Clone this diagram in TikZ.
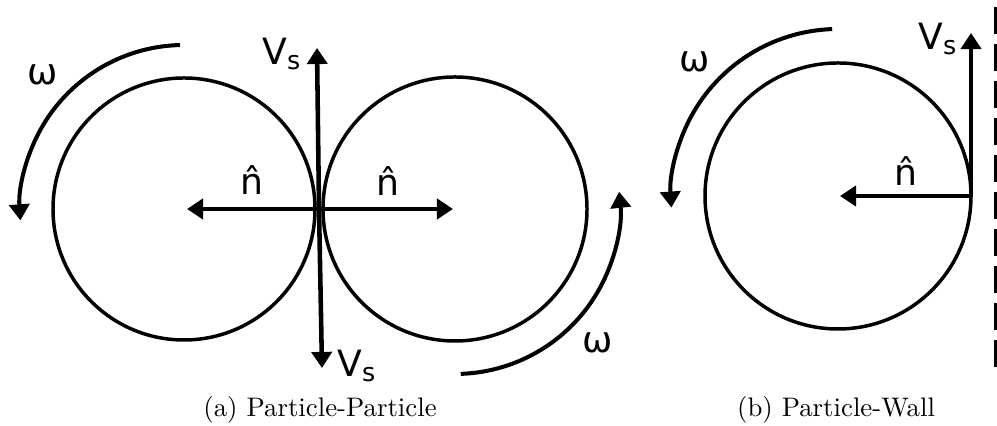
\documentclass[tikz,border=0pt]{standalone}
\usepackage{fontspec}
\newfontfamily\labelfont{DejaVu Sans}
\usetikzlibrary{arrows.meta}
\begin{document}
\begin{tikzpicture}[x=0.373pt,y=0.373pt,
		particle/.style={line width=1.3pt},
		vec/.style={line width=1.7pt,-{Triangle[width=7.5pt,length=6pt]}},
		spin/.style={line width=1.5pt,-{Triangle[width=7.5pt,length=6pt]}},
		lbl/.style={inner sep=0pt,font=\labelfont\fontsize{13.5}{16}\selectfont},
		wall/.style={line width=2.2pt,dash pattern=on 10.1pt off 3.7pt}]
	\useasboundingbox (0,0) rectangle (997,426);
	% (a) two particles in contact
	\coordinate (L) at (184,217);
	\coordinate (R) at (455,217);
	\coordinate (C) at (319,217);
	\coordinate (vsUp) at (317,378);
	\coordinate (vsDown) at (322,58);
	\coordinate (nL) at (187,217);
	\coordinate (nR) at (453,217);
	\draw[particle] (L) circle (131);
	\draw[particle] (R) circle (132);
	\draw[vec] (C)--(vsUp);
	\draw[vec] (C)--(vsDown);
	\draw[vec] (C)--(nL);
	\draw[vec] (C)--(nR);
	\draw[spin] ([shift={(91.4:164)}]L) arc[start angle=91.4, end angle=184, radius=164];
	\draw[spin] ([shift={(-88:165)}]R) arc[start angle=-88, end angle=6, radius=165];
	\node[lbl] (vsTopLabel) at (282,372) {V\textsubscript{s}};
	\node[lbl] (vsBotLabel) at (357,60) {V\textsubscript{s}};
	\node[lbl] (nLLabel) at (252,246) {\^{n}};
	\node[lbl] (nRLabel) at (388,245) {\^{n}};
	\node[lbl] (omegaL) at (43,351) {ω};
	\node[lbl] (omegaR) at (598,83) {ω};
	\node (capA) at (320,16) {(a) Particle-Particle};
	% (b) particle against the wall
	\coordinate (P) at (838,230);
	\coordinate (W) at (971,230);
	\coordinate (vsWall) at (971,393);
	\coordinate (nW) at (840,230);
	\draw[particle] (P) circle (133);
	\draw[vec] (W)--(vsWall);
	\draw[vec] (W)--(nW);
	\draw[spin] ([shift={(92:167)}]P) arc[start angle=92, end angle=184, radius=167];
	\node[lbl] (vsWallLabel) at (938,387) {V\textsubscript{s}};
	\node[lbl] (nWLabel) at (906,255) {\^{n}};
	\node[lbl] (omegaW) at (695,364) {ω};
	\draw[wall] (997,419)--(997,59);
	\node (capB) at (836,16) {(b) Particle-Wall};
\end{tikzpicture}
\end{document}
